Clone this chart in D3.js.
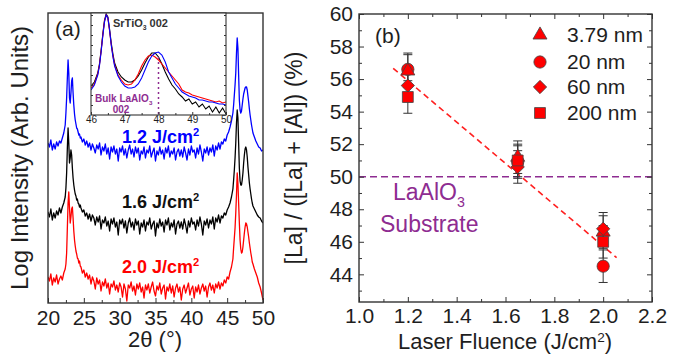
<!DOCTYPE html>
<html><head><meta charset="utf-8">
<script src="https://cdn.jsdelivr.net/npm/d3@7/dist/d3.min.js"></script>
<style>body{margin:0;background:#fff}svg{display:block;font-family:"Liberation Sans",Arial,sans-serif}</style>
</head><body><svg id="c" width="680" height="358"></svg>
<script>
// ---------- Panel (a) data: XRD 2theta scans (log intensity, arb. units incl. offsets) ----------
const twoTheta = [20,20.2,20.4,20.6,20.8,21,21.2,21.4,21.6,21.8,22,22.2,22.4,
22.5,22.6,22.7,22.8,22.9,23,23.1,23.2,23.3,23.4,23.5,23.6,23.7,23.8,23.9,24,24.1,24.2,24.3,24.4,24.5,
24.6,24.8,25,25.2,25.4,25.6,25.8,26,26.2,26.4,
26.6,26.8,27,27.2,27.4,27.6,27.8,28,28.2,28.4,
28.6,28.8,29,29.2,29.4,29.6,29.8,30,30.2,30.4,
30.6,30.8,31,31.2,31.4,31.6,31.8,32,32.2,32.4,
32.6,32.8,33,33.2,33.4,33.6,33.8,34,34.2,34.4,
34.6,34.8,35,35.2,35.4,35.6,35.8,36,36.2,36.4,
36.6,36.8,37,37.2,37.4,37.6,37.8,38,38.2,38.4,
38.6,38.8,39,39.2,39.4,39.6,39.8,40,40.2,40.4,
40.6,40.8,41,41.2,41.4,41.6,41.8,42,42.2,42.4,
42.6,42.8,43,43.2,43.4,43.6,43.8,44,44.2,44.4,
44.6,44.8,45,45.2,45.4,45.6,45.8,
45.9,46,46.1,46.2,46.3,46.4,46.5,46.6,46.7,46.8,46.9,47,47.1,47.2,47.3,47.4,47.5,47.6,47.7,47.8,47.9,48,48.1,48.2,48.3,48.4,48.5,48.6,
48.8,49,49.2,49.4,49.6,49.8,50];

const int20 = [2.6,2.2,2.9,1.8,2.5,2.1,2.8,1.9,2.4,2.7,2.3,3.0,3.4,
3.9,5.0,7.5,10.0,11.1,9.5,8.0,8.6,9.4,9.6,8.5,7.2,6.3,5.7,5.2,4.9,4.5,4.4,4.0,4.2,3.7,
3.6,3.0,3.3,2.6,3.0,2.4,2.8,1.9,2.6,2.2,
1.4,2.5,1.9,2.3,1.2,2.1,1.7,2.4,1.5,2.0,
0.9,1.9,1.6,2.2,1.3,1.8,1.1,2.0,1.6,0.6,
1.9,1.4,0.2,1.8,1.5,2.1,1.2,1.7,0.8,1.9,
1.4,2.0,1.1,1.6,0.5,1.8,1.3,1.9,1.0,1.6,
2.1,1.2,0.7,1.7,1.3,2.0,0.9,1.5,1.8,0.4,
1.6,1.2,1.9,1.0,1.7,0.6,1.5,1.9,1.1,1.6,
0.3,1.4,1.8,1.0,1.5,2.0,0.8,1.4,1.7,0.5,
1.6,1.1,1.8,0.9,1.5,1.9,1.2,1.7,0.6,1.6,
2.0,1.3,1.8,1.0,1.9,1.5,2.1,1.4,2.0,1.7,
2.3,2.0,2.6,2.4,3.1,3.6,4.4,
5.5,6.5,7.5,9.0,10.8,13.0,12.0,10.0,8.0,6.3,5.4,5.0,5.1,5.6,6.3,7.0,7.6,8.0,7.9,7.6,7.1,6.6,6.0,5.5,5.0,4.6,4.1,3.9,
3.4,3.0,2.6,2.0,1.6,1.0,0.3];

const int16 = [9.1,8.6,9.4,8.3,9.0,8.5,9.2,8.8,9.5,9.0,9.6,10.0,10.6,
11.5,13.0,15.5,17.5,16.0,14.0,14.5,15.3,14.8,13.5,12.5,11.8,11.3,10.9,10.7,10.3,10.4,10.0,9.9,9.6,9.8,
9.5,9.1,9.3,8.7,9.0,8.4,8.9,8.2,8.8,8.5,
7.8,8.6,8.1,8.7,7.4,8.3,8.0,8.6,7.7,8.2,
7.2,8.4,7.9,8.5,7.6,8.1,6.8,8.3,7.9,8.4,
7.5,8.2,7.0,8.0,8.5,7.6,8.1,7.3,8.4,7.8,
8.2,6.9,8.0,7.6,8.3,7.2,8.1,7.8,8.5,7.4,
7.9,8.2,6.7,8.0,7.5,8.4,7.7,8.1,7.1,8.3,
7.8,8.5,7.3,8.0,7.6,8.3,6.9,7.9,8.2,7.5,
8.1,7.4,8.4,7.8,7.0,8.2,7.6,8.5,7.9,8.1,
7.3,8.3,7.7,8.6,7.9,6.8,8.2,7.8,8.4,7.5,
8.3,7.9,8.6,7.4,8.5,8.1,8.8,8.0,8.7,8.5,
9.0,8.8,9.3,9.6,10.0,10.6,11.4,
12.3,13.3,14.5,16.0,18.0,19.3,18.5,16.0,13.5,12.2,11.8,11.8,12.3,13.0,14.0,14.8,15.4,15.6,15.3,14.6,13.6,12.8,12.0,11.4,10.9,10.4,10.0,9.7,
9.4,9.1,8.8,8.6,8.5,8.2,8.0];

const int12 = [16.0,15.6,16.3,15.3,15.9,15.4,16.1,15.7,16.2,16.0,16.5,17.0,17.8,
19.0,20.5,22.5,24.3,23.0,20.5,20.0,21.0,22.2,22.5,21.0,19.8,18.9,18.3,17.9,17.5,17.4,17.1,16.8,16.9,16.5,
16.6,16.1,16.4,15.8,16.2,15.6,16.0,15.3,15.9,15.5,
15.0,15.8,15.4,16.0,14.8,15.6,15.2,15.9,14.9,15.5,
14.4,15.6,15.1,15.7,14.9,15.4,14.2,15.5,15.1,15.7,
14.8,15.4,14.5,15.3,15.8,14.9,15.4,14.6,15.6,15.0,
15.5,14.3,15.2,14.9,15.6,14.5,15.3,15.0,15.7,14.6,
15.1,15.5,14.2,15.2,14.8,15.6,14.9,15.3,14.4,15.5,
15.0,15.7,14.6,15.2,14.9,15.5,14.3,15.1,15.4,14.7,
15.3,14.6,15.6,15.0,14.3,15.4,14.8,15.7,15.1,15.3,
14.5,15.5,14.9,15.8,15.1,14.2,15.4,15.0,15.6,14.8,
15.5,15.1,15.8,14.7,15.7,15.3,16.0,15.4,16.1,15.9,
16.4,16.2,16.8,17.1,17.6,18.2,19.0,
19.8,20.8,21.8,23.0,25.0,26.5,25.5,22.8,20.3,19.3,19.0,19.2,19.8,20.4,20.9,21.2,21.5,21.6,21.6,21.3,20.7,20.1,19.4,18.8,18.3,17.8,17.4,17.0,
16.6,16.2,15.9,15.6,15.5,15.2,15.3];

const mainTicks = [20,25,30,35,40,45,50];
const mainMinor = [22.5,27.5,32.5,37.5,42.5,47.5];

// inset (46-50 deg zoom)
const insetTheta = [46,46.1,46.2,46.25,46.3,46.35,46.4,46.45,46.5,46.55,46.6,46.65,46.7,
46.8,46.9,47,47.1,47.2,47.3,47.4,47.5,47.6,47.7,47.8,47.9,48,48.1,48.2,48.3,48.4,48.5,48.6,48.7,48.8,48.9,49,49.1,49.2,49.3,49.4,49.5,49.6,49.7,49.8,49.9,50];
const inset12 = [25,30,40,49,63,79,93,100,97,85,70,58,49,
39,33,29,27,27,28,31,37,45,53,59,62,63,60,53,43,37,31,27,23,21,19,18,17,15,15,14,13,13,12,11,11,10];
const inset20 = [27,31,41,50,64,80,94,100,97,84,70,59,50,
40,35,31,30,31,35,41,49,55,59,60,58,55,51,47,43,39,35,31,25,23,22,20,19,18,17,16,15,14,13,14,12,13];
const inset16 = [29,33,42,51,65,81,95,101,98,86,72,61,52,
43,38,35,33,33,35,39,45,52,58,62,62,58,51,43,36,30,26,21,18,14,16,11,13,8,11,6,9,3,8,2,7,1];
const insetTicks = [46,47,48,49,50];
const insetMinor = [46.5,47.5,48.5,49.5];
const bulkLAO = 48.0;

// ---------- Panel (b) data ----------
const fluence = [1.2, 1.65, 2.0];
const sizeLabels = ["3.79 nm", "20 nm", "60 nm", "200 nm"];
const ratio379 = [56.5, 51.2, 46.6];
const ratio20  = [56.6, 50.9, 44.5];
const ratio60  = [55.6, 50.6, 46.8];
const ratio200 = [54.9, 51.0, 46.0];
const ratioErr = [1.0, 1.0, 1.0];
const fitX = [1.14, 2.055];
const fitY = [56.66, 45.03];
const substrateRatio = 50;
const bXTicks = [1.0,1.2,1.4,1.6,1.8,2.0,2.2];
const bXMinor = [1.1,1.3,1.5,1.7,1.9,2.1];
const bYTicks = [44,46,48,50,52,54,56,58,60];
const bYMinor = [43,45,47,49,51,53,55,57,59];

// ---------- drawing ----------
const svg = d3.select('#c');
const INK = '#1e1e1e', FRAME = '#333', PURPLE = '#8e2c91';

function addText(parent, x, y, parts, o) {
  const t = parent.append('text')
    .attr('transform', `translate(${x},${y})` + (o.rotate ? ` rotate(${o.rotate})` : ''))
    .attr('text-anchor', o.anchor || 'start')
    .attr('font-size', o.size)
    .attr('font-weight', o.weight || 'normal')
    .attr('fill', o.fill || INK);
  let shift = 0;
  const supK = o.supK || 0.4;
  parts.forEach(p => {
    const s = t.append('tspan').text(p.t);
    const target = p.sup ? -o.size * supK : p.sub ? o.size * 0.3 : 0;
    if (target !== shift) { s.attr('dy', target - shift); shift = target; }
    if (p.sup || p.sub) s.attr('font-size', o.size * 0.62);
  });
  return t;
}
function styleAxis(g, size) {
  g.select('.domain').remove();
  g.attr('color', FRAME).attr('font-family', null).attr('font-size', size);
  g.selectAll('text').attr('fill', INK);
  g.selectAll('line').attr('stroke-width', 1);
}

// ----- Panel (a) -----
const ax = d3.scaleLinear().domain([20, 50]).range([48, 263]);
const ay = d3.scaleLinear().domain([0, 29]).range([303, 13]);
svg.append('clipPath').attr('id', 'clipA').append('rect')
  .attr('x', 48).attr('y', 13).attr('width', 215).attr('height', 290);
const gA = svg.append('g');
const curvesG = gA.append('g').attr('clip-path', 'url(#clipA)');
const mainLine = d3.line().x((d, i) => ax(twoTheta[i])).y(d => ay(d));
[[int12, '#0000ff'], [int16, '#000000'], [int20, '#ff0000']].forEach(([arr, c]) => {
  curvesG.append('path').datum(arr.slice(0, twoTheta.length)).attr('d', mainLine)
    .attr('fill', 'none').attr('stroke', c).attr('stroke-width', 1.3).attr('stroke-linejoin', 'round');
});
gA.append('g').attr('transform', 'translate(0,303)')
  .call(d3.axisBottom(ax).tickValues(mainTicks).tickSize(-5).tickPadding(7).tickFormat(d3.format('d')))
  .call(g => styleAxis(g, 21));
gA.append('g').attr('transform', 'translate(0,303)')
  .call(d3.axisBottom(ax).tickValues(mainMinor).tickSize(-3).tickFormat(''))
  .call(g => styleAxis(g, 21));
gA.append('rect').attr('x', 48).attr('y', 13).attr('width', 215).attr('height', 290)
  .attr('fill', 'none').attr('stroke', FRAME).attr('stroke-width', 1.4);

// inset
const ix = d3.scaleLinear().domain([46, 50]).range([91, 226]);
const iy = d3.scaleLinear().domain([0, 102]).range([115, 13]);
gA.append('rect').attr('x', 91).attr('y', 13).attr('width', 135).attr('height', 102).attr('fill', '#fff');
svg.append('clipPath').attr('id', 'clipI').append('rect')
  .attr('x', 91).attr('y', 13).attr('width', 135).attr('height', 102);
const insG = gA.append('g').attr('clip-path', 'url(#clipI)');
const insLine = d3.line().x((d, i) => ix(insetTheta[i])).y(d => iy(d));
[[inset16, '#000000'], [inset20, '#ff0000'], [inset12, '#0000ff']].forEach(([arr, c]) => {
  insG.append('path').datum(arr).attr('d', insLine)
    .attr('fill', 'none').attr('stroke', c).attr('stroke-width', 1.1);
});
insG.append('line').attr('x1', ix(bulkLAO)).attr('x2', ix(bulkLAO)).attr('y1', iy(58)).attr('y2', iy(0))
  .attr('stroke', PURPLE).attr('stroke-width', 1.5).attr('stroke-dasharray', '2,3');
gA.append('g').attr('transform', 'translate(0,115)')
  .call(d3.axisBottom(ix).tickValues(insetTicks).tickSize(-3).tickPadding(1).tickFormat(d3.format('d')))
  .call(g => styleAxis(g, 10));
gA.append('g').attr('transform', 'translate(0,115)')
  .call(d3.axisBottom(ix).tickValues(insetMinor).tickSize(-2).tickFormat(''))
  .call(g => styleAxis(g, 10));
gA.append('g').attr('transform', 'translate(91,0)')
  .call(d3.axisLeft(iy).tickValues([10,20,30,40,50,60,70,80,90,100]).tickSize(-2).tickFormat(''))
  .call(g => styleAxis(g, 10));
gA.append('g').attr('transform', 'translate(226,0)')
  .call(d3.axisRight(iy).tickValues([10,20,30,40,50,60,70,80,90,100]).tickSize(-2).tickFormat(''))
  .call(g => styleAxis(g, 10));
gA.append('rect').attr('x', 91).attr('y', 13).attr('width', 135).attr('height', 102)
  .attr('fill', 'none').attr('stroke', FRAME).attr('stroke-width', 1.1);
addText(gA, 113, 27, [{t: 'SrTiO'}, {t: '3', sub: true}, {t: ' 002'}], {size: 11, weight: 'bold', fill: '#333'});
addText(gA, 95, 102, [{t: 'Bulk LaAlO'}, {t: '3', sub: true}], {size: 10, weight: 'bold', fill: PURPLE});
addText(gA, 121, 113, [{t: '002'}], {size: 10, weight: 'bold', fill: PURPLE, anchor: 'middle'});

// curve labels
addText(gA, 122, 143, [{t: '1.2 J/cm'}, {t: '2', sup: true}], {size: 18, weight: 'bold', fill: '#0000ff'});
addText(gA, 122, 208, [{t: '1.6 J/cm'}, {t: '2', sup: true}], {size: 18, weight: 'bold', fill: '#111'});
addText(gA, 122, 273, [{t: '2.0 J/cm'}, {t: '2', sup: true}], {size: 18, weight: 'bold', fill: '#ff0000'});
addText(gA, 55, 36, [{t: '(a)'}], {size: 21});
addText(gA, 28, 158, [{t: 'Log Intensity (Arb. Units)'}], {size: 24, anchor: 'middle', rotate: -90});
addText(gA, 155, 347, [{t: '2θ (°)'}], {size: 22, anchor: 'middle'});

// ----- Panel (b) -----
const bx = d3.scaleLinear().domain([1.0, 2.2]).range([359, 652]);
const by = d3.scaleLinear().domain([42.3, 60]).range([302, 14]);
const gB = svg.append('g');
gB.append('line').attr('x1', bx(1.0)).attr('x2', bx(2.2)).attr('y1', by(substrateRatio)).attr('y2', by(substrateRatio))
  .attr('stroke', PURPLE).attr('stroke-width', 1.6).attr('stroke-dasharray', '7,4');
gB.append('line').attr('x1', bx(fitX[0])).attr('x2', bx(fitX[1])).attr('y1', by(fitY[0])).attr('y2', by(fitY[1]))
  .attr('stroke', '#ff2020').attr('stroke-width', 1.6).attr('stroke-dasharray', '6,4');

const series = [
  {vals: ratio20, sym: d3.symbolCircle, size: 118, rot: 0},
  {vals: ratio379, sym: d3.symbolTriangle, size: 85, rot: 0},
  {vals: ratio60, sym: d3.symbolSquare, size: 88, rot: 45},
  {vals: ratio200, sym: d3.symbolSquare, size: 118, rot: 0}
];
const ebG = gB.append('g').attr('stroke', '#333').attr('stroke-width', 1);
series.forEach(s => {
  s.vals.forEach((v, i) => {
    const x = bx(fluence[i]), y1 = by(v - ratioErr[i]), y2 = by(v + ratioErr[i]);
    ebG.append('line').attr('x1', x).attr('x2', x).attr('y1', y1).attr('y2', y2);
    ebG.append('line').attr('x1', x - 4.5).attr('x2', x + 4.5).attr('y1', y1).attr('y2', y1);
    ebG.append('line').attr('x1', x - 4.5).attr('x2', x + 4.5).attr('y1', y2).attr('y2', y2);
  });
});
series.forEach(s => {
  s.vals.forEach((v, i) => {
    gB.append('path').attr('d', d3.symbol(s.sym, s.size)())
      .attr('transform', `translate(${bx(fluence[i])},${by(v)}) rotate(${s.rot})`)
      .attr('fill', '#ff0000').attr('stroke', '#444').attr('stroke-width', 0.8);
  });
});

// axes
const mk = (axis, tr, vals, size, fmt) => gB.append('g').attr('transform', tr)
  .call(axis.tickValues(vals).tickSize(-size).tickPadding(6).tickFormat(fmt))
  .call(g => styleAxis(g, 21));
mk(d3.axisBottom(bx), 'translate(0,302)', bXTicks, 5, d3.format('.1f'));
mk(d3.axisBottom(bx), 'translate(0,302)', bXMinor, 3, '');
mk(d3.axisTop(bx), 'translate(0,14)', bXTicks, 5, '');
mk(d3.axisTop(bx), 'translate(0,14)', bXMinor, 3, '');
mk(d3.axisLeft(by), 'translate(359,0)', bYTicks, 5, d3.format('d'));
mk(d3.axisLeft(by), 'translate(359,0)', bYMinor, 3, '');
mk(d3.axisRight(by), 'translate(652,0)', bYTicks, 5, '');
mk(d3.axisRight(by), 'translate(652,0)', bYMinor, 3, '');
gB.append('rect').attr('x', 359).attr('y', 14).attr('width', 293).attr('height', 288)
  .attr('fill', 'none').attr('stroke', FRAME).attr('stroke-width', 1.4);

// legend
const legSyms = [
  {sym: d3.symbolTriangle, size: 85, rot: 0},
  {sym: d3.symbolCircle, size: 118, rot: 0},
  {sym: d3.symbolSquare, size: 88, rot: 45},
  {sym: d3.symbolSquare, size: 118, rot: 0}
];
const legY = [35, 62, 87, 113];
sizeLabels.forEach((lab, i) => {
  gB.append('path').attr('d', d3.symbol(legSyms[i].sym, legSyms[i].size)())
    .attr('transform', `translate(540,${legY[i]}) rotate(${legSyms[i].rot})`)
    .attr('fill', '#ff0000').attr('stroke', '#444').attr('stroke-width', 0.8);
  addText(gB, 567, legY[i] + 7, [{t: lab}], {size: 21});
});
addText(gB, 375, 43, [{t: '(b)'}], {size: 21});
addText(gB, 393, 200, [{t: 'LaAlO'}, {t: '3', sub: true}], {size: 23, fill: PURPLE});
addText(gB, 380, 232, [{t: 'Substrate'}], {size: 23, fill: PURPLE});
addText(gB, 302, 158, [{t: '[La] / ([La] + [Al]) (%)'}], {size: 23, anchor: 'middle', rotate: -90});
addText(gB, 505, 349, [{t: 'Laser Fluence (J/cm'}, {t: '2', sup: true}, {t: ')'}], {size: 22, anchor: 'middle', supK: 0.33});
</script></body></html>
